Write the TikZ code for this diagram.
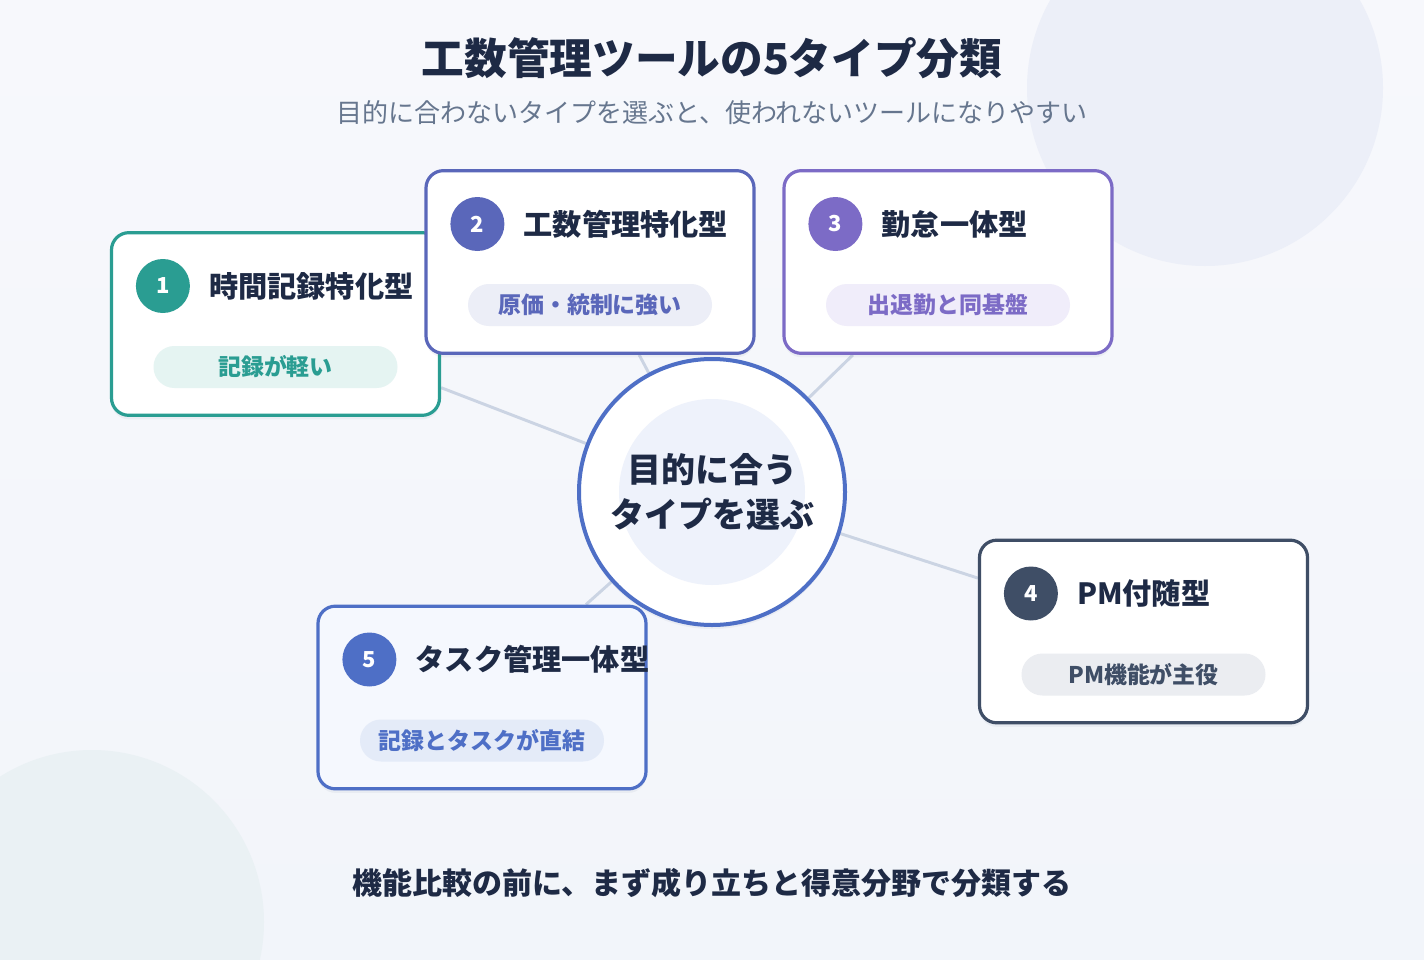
\documentclass[tikz,border=0pt]{standalone}
\usepackage{fontspec}
\usepackage{tikz}
\usetikzlibrary{positioning,calc,shadows}
\setmainfont{Noto Sans CJK JP}
\IfFontExistsTF{Noto Sans CJK JP Black}
  {\newfontfamily\heavy{Noto Sans CJK JP Black}}
  {\newfontfamily\heavy{Noto Sans CJK JP}[UprightFont=* Bold]}
\definecolor{InkNavy}{HTML}{1E2A45}
\definecolor{SubGray}{HTML}{66768E}
\definecolor{LinkGray}{HTML}{CBD4E3}
\definecolor{BgTop}{HTML}{F7F8FC}
\definecolor{BgBottom}{HTML}{F2F5FA}
\definecolor{DecorBlue}{HTML}{ECEFF8}
\definecolor{DecorTeal}{HTML}{EAF1F4}
\definecolor{ShadowTint}{HTML}{5B6A8A}
\definecolor{TealMain}{HTML}{2A9D92}
\definecolor{TealSoft}{HTML}{E5F4F2}
\definecolor{IndigoMain}{HTML}{5A67BA}
\definecolor{IndigoSoft}{HTML}{ECEEF7}
\definecolor{PurpleMain}{HTML}{7C6BC6}
\definecolor{PurpleSoft}{HTML}{F0EDFA}
\definecolor{SlateMain}{HTML}{3F4E66}
\definecolor{SlateSoft}{HTML}{EBEDF1}
\definecolor{BlueMain}{HTML}{4E6FC6}
\definecolor{BlueSoft}{HTML}{E4EBF8}
\definecolor{BlueTint}{HTML}{F5F8FE}
\definecolor{HubCore}{HTML}{EEF2FB}
\pgfdeclarelayer{back}
\pgfdeclarelayer{links}
\pgfsetlayers{back,links,main}

\begin{document}
\begin{tikzpicture}[
  x=0.75pt,y=-0.75pt,
  every node/.style={align=center,inner sep=0pt},
  card/.style={draw=#1,line width=2.4pt,fill=white,rounded corners=13pt,minimum width=246pt,minimum height=137pt,
    drop shadow={shadow xshift=0pt,shadow yshift=-3pt,opacity=0.07,fill=ShadowTint}},
  badge/.style={circle,fill=#1,minimum size=40.5pt,text=white,font=\heavy\fontsize{16.5pt}{16pt}\selectfont},
  cardtitle/.style={text=InkNavy,font=\heavy\fontsize{21.9pt}{24pt}\selectfont},
  pill/.style={fill=#1,rounded corners=15.7pt,minimum width=183pt,minimum height=31.5pt,font=\heavy\fontsize{17.2pt}{18pt}\selectfont},
  hub/.style={circle,draw=BlueMain,line width=3pt,fill=white,minimum size=199.5pt,
    drop shadow={shadow xshift=0pt,shadow yshift=-3pt,opacity=0.07,fill=ShadowTint}},
  hubcore/.style={circle,fill=HubCore,minimum size=139.5pt},
  hubtext/.style={text=InkNavy,font=\heavy\fontsize{25.5pt}{33.75pt}\selectfont},
  link/.style={draw=LinkGray,line width=2.2pt}
]
\useasboundingbox (0,0) rectangle (1424,960);

% backdrop
\begin{pgfonlayer}{back}
\fill[top color=BgTop,bottom color=BgBottom] (0,0) rectangle (1424,960);
\begin{scope}
\clip (0,0) rectangle (1424,960);
\fill[DecorBlue] (1205,88) circle[radius=178];
\fill[DecorTeal] (92,922) circle[radius=172];
\end{scope}
\end{pgfonlayer}

% headings
\node[text=InkNavy,font=\heavy\fontsize{32pt}{36pt}\selectfont] (title) at (712,58) {工数管理ツールの5タイプ分類};
\node[text=SubGray,font=\fontsize{19.5pt}{22pt}\selectfont] (sub) at (712,113) {目的に合わないタイプを選ぶと、使われないツールになりやすい};

% hub
\node[hub] (hub) at (712,492) {};
\node[hubcore] (core) at (hub.center) {};
\node[hubtext] (goal) at (core.center) {目的に合う\\タイプを選ぶ};

% type cards
\node[card=TealMain] (c1) at (275.5,324) {};
\node[badge=TealMain] (b1) at ($(c1.west)+(53,-38)$) {1};
\node[cardtitle,right=14pt of b1] (t1) {時間記録特化型};
\node[pill=TealSoft,text=TealMain] (p1) at ($(c1.center)+(0,43)$) {記録が軽い};

\node[card=IndigoMain] (c2) at (590,262) {};
\node[badge=IndigoMain] (b2) at ($(c2.west)+(53,-38)$) {2};
\node[cardtitle,right=14pt of b2] (t2) {工数管理特化型};
\node[pill=IndigoSoft,text=IndigoMain] (p2) at ($(c2.center)+(0,43)$) {原価・統制に強い};

\node[card=PurpleMain] (c3) at (948,262) {};
\node[badge=PurpleMain] (b3) at ($(c3.west)+(53,-38)$) {3};
\node[cardtitle,right=14pt of b3] (t3) {勤怠一体型};
\node[pill=PurpleSoft,text=PurpleMain] (p3) at ($(c3.center)+(0,43)$) {出退勤と同基盤};

\node[card=SlateMain] (c4) at (1143.5,631.5) {};
\node[badge=SlateMain] (b4) at ($(c4.west)+(53,-38)$) {4};
\node[cardtitle,right=14pt of b4] (t4) {PM付随型};
\node[pill=SlateSoft,text=SlateMain] (p4) at ($(c4.center)+(0,43)$) {PM機能が主役};

\node[card=BlueMain,fill=BlueTint] (c5) at (482,697.5) {};
\node[badge=BlueMain] (b5) at ($(c5.west)+(53,-38)$) {5};
\node[cardtitle,right=14pt of b5] (t5) {タスク管理一体型};
\node[pill=BlueSoft,text=BlueMain] (p5) at ($(c5.center)+(0,43)$) {記録とタスクが直結};

% spokes
\begin{pgfonlayer}{links}
\draw[link] (hub) -- (c1);
\draw[link] (hub) -- (c2);
\draw[link] (hub) -- (c3);
\draw[link] (hub) -- (c4);
\draw[link] (hub) -- (c5);
\end{pgfonlayer}

\node[text=InkNavy,font=\heavy\fontsize{22.5pt}{24pt}\selectfont] (foot) at (712,883) {機能比較の前に、まず成り立ちと得意分野で分類する};
\end{tikzpicture}
\end{document}
